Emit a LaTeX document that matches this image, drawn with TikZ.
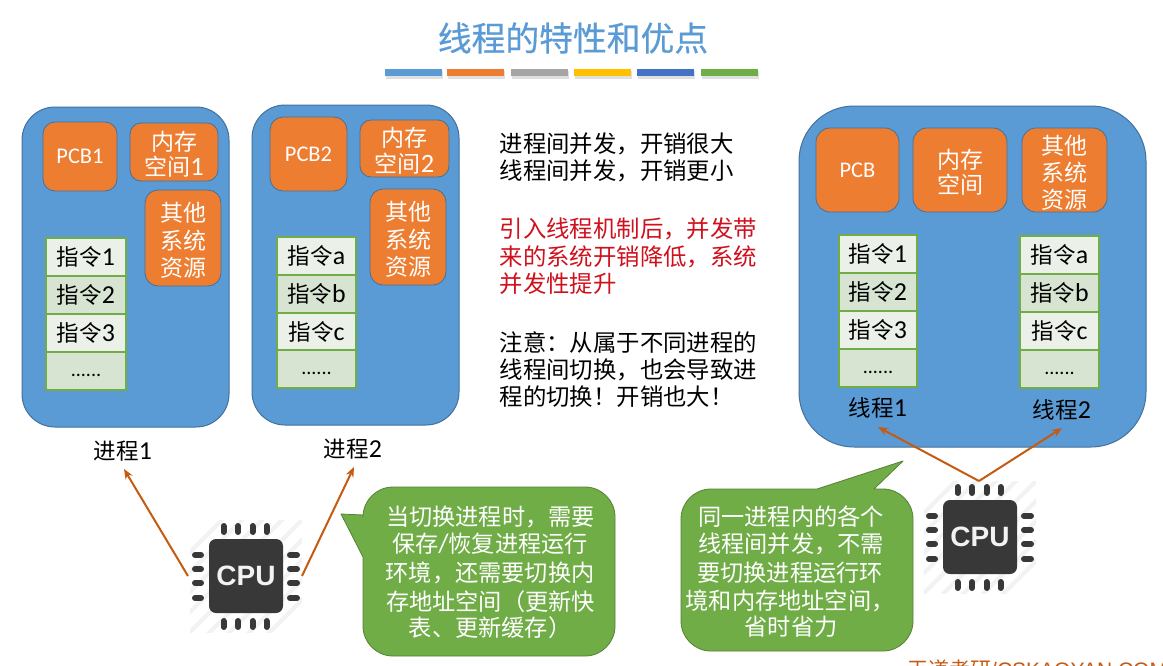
\documentclass[tikz,border=0pt]{standalone}
\usepackage{fontspec}
\setmainfont{Noto Sans CJK SC}
\newfontfamily\lat{Carlito}[Scale=1.15]
\newfontfamily\titlefont{Noto Sans CJK SC}[FakeBold=0.5]
\newfontfamily\footfont{Liberation Sans}
\newfontfamily\chipfont{Liberation Sans}[BoldFont={Liberation Sans Bold}]
\usetikzlibrary{arrows.meta}
\definecolor{blueA}{HTML}{5B9BD5}
\definecolor{blueB}{HTML}{41719C}
\definecolor{orangeA}{HTML}{ED7D31}
\definecolor{greenA}{HTML}{70AD47}
\definecolor{greenB}{HTML}{548235}
\definecolor{rowA}{HTML}{EBF1E9}
\definecolor{rowB}{HTML}{D7E4D2}
\definecolor{arrowc}{HTML}{C55A11}
\definecolor{chipc}{HTML}{383838}
\definecolor{redtext}{HTML}{D0101C}
\newcommand\La[1]{{\lat #1}}
\newcommand\fs[2]{\fontsize{#1}{#2}\selectfont}
\newcommand\dn{\rule{0pt}{24pt}}
\newcommand\Dots{\raisebox{-5pt}[0pt][0pt]{\lat\fontsize{17.5}{20}\selectfont ......}}
% name, x1, y1, x2, y2, style, text
\newcommand\bx[7]{\node[#6,minimum width={(#4-(#2))*1pt},minimum height={(#5-(#3))*1pt}] (#1) at ({(#2+#4)/2},{(#3+#5)/2}) {#7};}
% name prefix, cx, cy
\newcommand\chip[3]{%
 \begin{scope}[shift={(#2,#3)}]
  \begin{scope}
  \clip (-56,-56) rectangle (56,56);
  \foreach \d in {-80,-60,-40,-20,0,20,40,60,80}{
    \draw[hatchline] (\d-60,60) -- (\d+60,-60);
  }
  \end{scope}
  \foreach \d in {-22.5,-8,6.5,20.5}{
   \draw[pin] (\d,-50) -- (\d,-44);
   \draw[pin] (\d,45) -- (\d,51);
  }
  \foreach \d in {-21,-7,7,22}{
   \draw[pin] (-51,\d) -- (-45,\d);
   \draw[pin] (44,\d) -- (51,\d);
  }
  \node[chipbody] (#1) at (0,0) {CPU};
 \end{scope}}
\tikzset{
 x=1pt,y=-1pt,
 procbox/.style={draw=blueB,line width=1pt,fill=blueA,rounded corners=33pt,inner sep=0pt,outer sep=0pt},
 orangebox/.style={draw=blueB,line width=0.8pt,fill=orangeA,text=white,align=center,inner sep=0pt,outer sep=0pt,font=\fs{23}{27.5}},
 membox/.style={orangebox,font=\fs{23}{25.5}},
 pcbbox/.style={orangebox,font=\lat\fs{19.5}{26}},
 rowa/.style={draw=greenA,line width=1.5pt,fill=rowA,inner sep=0pt,outer sep=0pt,font=\fs{22.5}{26}},
 rowb/.style={rowa,fill=rowB},
 plain/.style={inner sep=0pt,font=\fs{22.5}{26}},
 body/.style={inner sep=0pt,anchor=west,font=\fs{23.4}{27}},
 callout/.style={text=white,align=center,inner sep=0pt,font=\fs{23.2}{27}},
 link/.style={draw=arrowc,line width=2pt,-{Stealth[length=10pt,width=8pt]}},
 bar/.style={inner sep=0pt,outer sep=0pt},
 pin/.style={draw=chipc,line width=6pt,line cap=round},
 hatchline/.style={draw=black!5,line width=4pt},
 chipbody/.style={fill=chipc,rounded corners=7pt,minimum width=74pt,minimum height=74pt,inner sep=0pt,text=white!95!black,font=\chipfont\bfseries\fs{28}{30}},
 bubble/.style={fill=greenA,draw=greenB,line width=0.8pt,line join=round},
}
\begin{document}
\begin{tikzpicture}
\useasboundingbox (0,0) rectangle (1163,665);
\fill[white] (0,0) rectangle (1163,665);
% title
\node[inner sep=0pt,text=blueA,font=\titlefont\fs{33.8}{36}] (title) at (573,38) {线程的特性和优点};
\foreach \xa/\xb/\c/\n in {385/442/5B9BD5/a,447/504/ED7D31/b,511/568/A5A5A5/c,574/631/FFC000/d,637/694/4472C4/e,701/758/70AD47/f}{
 \definecolor{barc}{HTML}{\c}
 \fill[black,opacity=0.12] (\xa+1,71) rectangle (\xb+1,79);
 \bx{bar\n}{\xa}{69}{\xb}{76}{bar,fill=barc}{}
}
% process 1
\bx{procA}{22}{107}{229}{427}{procbox}{}
\bx{pcbA}{43}{122}{117}{191}{pcbbox,rounded corners=12pt}{PCB1}
\bx{memA}{130}{123}{218}{181}{membox,rounded corners=11pt}{\dn 内存\\空间\La{1}}
\bx{resA}{145}{190}{221}{286}{orangebox,rounded corners=13pt}{\dn 其他\\系统\\资源}
\bx{insA1}{46}{238}{126}{276}{rowa}{指令\La{1}}
\bx{insA2}{46}{276}{126}{314}{rowb}{指令\La{2}}
\bx{insA3}{46}{314}{126}{352}{rowa}{指令\La{3}}
\bx{insA4}{46}{352}{126}{390}{rowb}{\Dots}
\node[plain] (labA) at (123,451) {进程\La{1}};
% process 2
\bx{procB}{252}{105}{459}{425}{procbox}{}
\bx{pcbB}{270}{117}{347}{191}{pcbbox,rounded corners=13pt}{PCB2}
\bx{memB}{360}{120}{449}{177}{membox,rounded corners=11pt}{\dn 内存\\空间\La{2}}
\bx{resB}{370}{189}{446}{285}{orangebox,rounded corners=13pt}{\dn 其他\\系统\\资源}
\bx{insB1}{277}{237}{356}{275}{rowa}{指令\La{a}}
\bx{insB2}{277}{275}{356}{313}{rowb}{指令\La{b}}
\bx{insB3}{277}{313}{356}{350}{rowa}{指令\La{c}}
\bx{insB4}{277}{350}{356}{388}{rowb}{\Dots}
\node[plain] (labB) at (353,449) {进程\La{2}};
% middle text
\node[body] (t1) at (499.5,144) {进程间并发，开销很大};
\node[body] (t2) at (499.5,171) {线程间并发，开销更小};
\node[body,text=redtext] (t3) at (499.5,229) {引入线程机制后，并发带};
\node[body,text=redtext] (t4) at (499.5,257) {来的系统开销降低，系统};
\node[body,text=redtext] (t5) at (499.5,284) {并发性提升};
\node[body] (t6) at (499.5,343) {注意：从属于不同进程的};
\node[body] (t7) at (499.5,370) {线程间切换，也会导致进};
\node[body] (t8) at (499.5,397) {程的切换！开销也大！};
% process 3
\bx{procC}{799}{106}{1146}{447}{procbox,rounded corners=55pt}{}
\bx{pcbC}{816}{128}{899}{212}{pcbbox,rounded corners=14pt}{PCB}
\bx{memC}{913}{128}{1007}{212}{membox,rounded corners=14pt}{\dn 内存\\空间}
\bx{resC}{1022}{128}{1107}{212}{orangebox,rounded corners=14pt,font=\fs{23}{27}}{\dn 其他\\系统\\资源}
\bx{insC1}{839}{235}{917}{273}{rowa}{指令\La{1}}
\bx{insC2}{839}{273}{917}{311}{rowb}{指令\La{2}}
\bx{insC3}{839}{311}{917}{349}{rowa}{指令\La{3}}
\bx{insC4}{839}{349}{917}{387}{rowb}{\Dots}
\bx{insD1}{1020}{236}{1099}{274}{rowa}{指令\La{a}}
\bx{insD2}{1020}{274}{1099}{312}{rowb}{指令\La{b}}
\bx{insD3}{1020}{312}{1099}{350}{rowa}{指令\La{c}}
\bx{insD4}{1020}{350}{1099}{388}{rowb}{\Dots}
\node[plain] (labC) at (878,408) {线程\La{1}};
\node[plain] (labD) at (1062,410) {线程\La{2}};
% chips
\chip{cpuA}{246}{576}
\chip{cpuB}{980}{537}
% connectors
\coordinate (cpuAl) at (188,576);
\coordinate (cpuAr) at (302,576);
\coordinate (cpuBt) at (979,481);
\coordinate (tipA) at (124,469);
\coordinate (tipB) at (354,467);
\coordinate (tipC) at (878,427);
\coordinate (tipD) at (1062,428);
\draw[link] (cpuAl) -- (tipA);
\draw[link] (cpuAr) -- (tipB);
\draw[link] (cpuBt) -- (tipC);
\draw[link] (cpuBt) -- (tipD);
% callout 1
\draw[bubble] (341,514) -- (363,515) -- (363,517) arc[start angle=180,end angle=270,radius=30] -- (585,487) arc[start angle=270,end angle=360,radius=30] -- (615,626) arc[start angle=0,end angle=90,radius=30] -- (393,656) arc[start angle=90,end angle=180,radius=30] -- (363,557) -- cycle;
\node[callout] (cA1) at (490.5,517) {当切换进程时，需要};
\node[callout] (cA2) at (490,544) {保存\La{/}恢复进程运行};
\node[callout] (cA3) at (490,573) {环境，还需要切换内};
\node[callout] (cA4) at (490.5,602) {存地址空间（更新快};
\node[callout] (cA5) at (490,628) {表、更新缓存）};
% callout 2
\draw[bubble] (903,461) -- (874,489) -- (883,489) arc[start angle=270,end angle=360,radius=30] -- (913,621) arc[start angle=0,end angle=90,radius=30] -- (711,651) arc[start angle=90,end angle=180,radius=30] -- (681,519) arc[start angle=180,end angle=270,radius=30] -- (817,489) -- cycle;
\node[callout] (cB1) at (791,517) {同一进程内的各个};
\node[callout] (cB2) at (791,544) {线程间并发，不需};
\node[callout] (cB3) at (790,573) {要切换进程运行环};
\node[callout] (cB4) at (790,601) {境和内存地址空间，};
\node[callout] (cB5) at (791,627) {省时省力};
% footer
\node[inner sep=0pt,anchor=west,text=arrowc,font=\fs{21}{24}] (foot) at (907,670) {王道考研{\footfont /CSKAOYAN.COM}};
\end{tikzpicture}
\end{document}
